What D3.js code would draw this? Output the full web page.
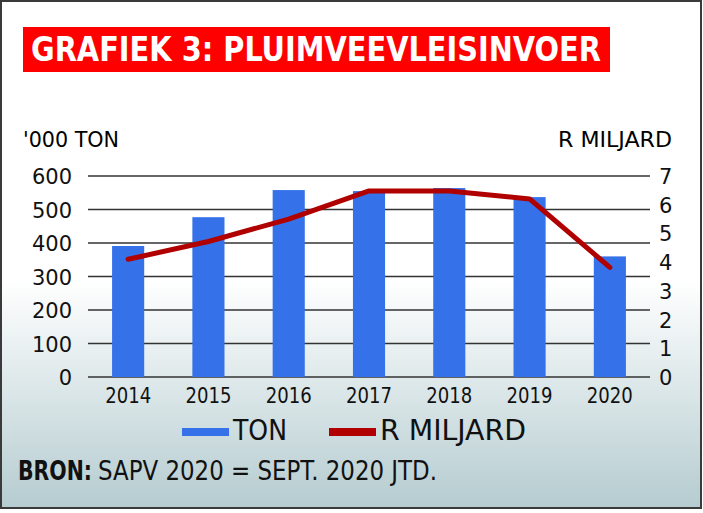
<!DOCTYPE html>
<html>
<head>
<meta charset="utf-8">
<script src="https://cdn.jsdelivr.net/npm/d3@7"></script>
<style>
  body { margin: 0; background: #fff; }
  svg { display: block; }
</style>
</head>
<body>
<script>
// data
var years = ["2014", "2015", "2016", "2017", "2018", "2019", "2020"];
var tons = [391, 477, 558, 555, 564, 537, 360];
var rand = [4.1, 4.72, 5.5, 6.48, 6.48, 6.2, 3.82];
var leftTicks = [0, 100, 200, 300, 400, 500, 600];
var rightTicks = [0, 1, 2, 3, 4, 5, 6, 7];

var W = 703, H = 513;
var plot = {left: 88, right: 650, top: 176, bottom: 377};
var condensed = "'Liberation Sans Narrow', 'DejaVu Sans Condensed', sans-serif";
var plain = "'DejaVu Sans', sans-serif";

var svg = d3.select("body").append("svg")
	.attr("width", W)
	.attr("height", H);

var defs = svg.append("defs");
var grad = defs.append("linearGradient")
	.attr("id", "bg")
	.attr("x1", 0).attr("y1", 0)
	.attr("x2", 0).attr("y2", 1);
grad.append("stop").attr("offset", 0.55).attr("stop-color", "#ffffff");
grad.append("stop").attr("offset", 1).attr("stop-color", "#b5ccd0");

// background + border
svg.append("rect")
	.attr("x", 1).attr("y", 1)
	.attr("width", 700).attr("height", 507)
	.attr("fill", "url(#bg)")
	.attr("stroke", "#3a3a3a")
	.attr("stroke-width", 2);

// title box
svg.append("rect")
	.attr("x", 23).attr("y", 27)
	.attr("width", 587).attr("height", 45)
	.attr("fill", "#ff0000");
svg.append("text")
	.text("GRAFIEK 3: PLUIMVEEVLEISINVOER")
	.attr("x", 31).attr("y", 61)
	.attr("fill", "#fff")
	.attr("font-family", condensed)
	.attr("font-weight", "bold")
	.attr("font-size", 33)
	.attr("textLength", 570)
	.attr("lengthAdjust", "spacingAndGlyphs");

// axis titles
svg.append("text")
	.text("'000 TON")
	.attr("x", 23).attr("y", 147)
	.attr("font-family", condensed)
	.attr("font-size", 21)
	.attr("textLength", 96)
	.attr("lengthAdjust", "spacingAndGlyphs");
svg.append("text")
	.text("R MILJARD")
	.attr("x", 672).attr("y", 147)
	.attr("text-anchor", "end")
	.attr("font-family", condensed)
	.attr("font-size", 21)
	.attr("textLength", 114)
	.attr("lengthAdjust", "spacingAndGlyphs");

// scales
var x = d3.scaleBand()
	.domain(years)
	.range([plot.left, plot.right])
	.paddingInner(0.6)
	.paddingOuter(0.3);
var yL = d3.scaleLinear().domain([0, 600]).range([plot.bottom, plot.top]);
var yR = d3.scaleLinear().domain([0, 7]).range([plot.bottom, plot.top]);

// grid
svg.append("g")
	.selectAll("line")
	.data(leftTicks)
	.enter().append("line")
	.attr("x1", plot.left).attr("x2", plot.right)
	.attr("y1", function(d){ return yL(d); })
	.attr("y2", function(d){ return yL(d); })
	.attr("stroke", "#333")
	.attr("stroke-width", 1.5);

// left axis
var gl = svg.append("g")
	.attr("transform", "translate(" + (plot.left - 16) + ",0)")
	.call(d3.axisLeft(yL).tickValues(leftTicks).tickSize(0).tickPadding(0));
gl.select(".domain").remove();
gl.selectAll("text")
	.attr("font-family", plain)
	.attr("font-size", 21)
	.attr("fill", "#111")
	.attr("dy", "0.36em");

// right axis
var gr = svg.append("g")
	.attr("transform", "translate(" + (plot.right + 9) + ",0)")
	.call(d3.axisRight(yR).tickValues(rightTicks).tickFormat(d3.format("d")).tickSize(0).tickPadding(0));
gr.select(".domain").remove();
gr.selectAll("text")
	.attr("font-family", plain)
	.attr("font-size", 21)
	.attr("fill", "#111")
	.attr("dy", "0.36em");

// bars
svg.append("g")
	.selectAll("rect")
	.data(tons)
	.enter().append("rect")
	.attr("x", function(d, i){ return x(years[i]); })
	.attr("y", function(d){ return yL(d); })
	.attr("width", x.bandwidth())
	.attr("height", function(d){ return plot.bottom - yL(d); })
	.attr("fill", "#3571e8");

// line
var line = d3.line()
	.x(function(d, i){ return x(years[i]) + x.bandwidth() / 2; })
	.y(function(d){ return yR(d); });
svg.append("path")
	.datum(rand)
	.attr("d", line)
	.attr("fill", "none")
	.attr("stroke", "#b00000")
	.attr("stroke-width", 5)
	.attr("stroke-linejoin", "round")
	.attr("stroke-linecap", "round");

// x axis labels
var gx = svg.append("g")
	.attr("transform", "translate(0," + plot.bottom + ")")
	.call(d3.axisBottom(x).tickSize(0).tickPadding(0));
gx.select(".domain").remove();
gx.selectAll("text")
	.attr("y", 26)
	.attr("dy", 0)
	.attr("font-family", condensed)
	.attr("font-size", 22)
	.attr("textLength", 46)
	.attr("lengthAdjust", "spacingAndGlyphs")
	.attr("fill", "#111");

// legend
var legend = [
	{name: "TON", color: "#3571e8", x: 182, len: 54},
	{name: "R MILJARD", color: "#b00000", x: 329, len: 146}
];
var lg = svg.append("g").selectAll("g")
	.data(legend)
	.enter().append("g")
	.attr("transform", function(d){ return "translate(" + d.x + ",0)"; });
lg.append("rect")
	.attr("x", 0).attr("y", 428)
	.attr("width", 47).attr("height", 8)
	.attr("fill", function(d){ return d.color; });
lg.append("text")
	.text(function(d){ return d.name; })
	.attr("x", 51).attr("y", 440)
	.attr("font-family", condensed)
	.attr("font-size", 28)
	.attr("textLength", function(d){ return d.len; })
	.attr("lengthAdjust", "spacingAndGlyphs")
	.attr("fill", "#111");

// source
svg.append("text")
	.text("BRON:")
	.attr("x", 18).attr("y", 480)
	.attr("font-family", condensed)
	.attr("font-weight", "bold")
	.attr("font-size", 26)
	.attr("textLength", 74)
	.attr("lengthAdjust", "spacingAndGlyphs")
	.attr("fill", "#111");
svg.append("text")
	.text("SAPV 2020 = SEPT. 2020 JTD.")
	.attr("x", 98).attr("y", 480)
	.attr("font-family", condensed)
	.attr("font-size", 26)
	.attr("textLength", 339)
	.attr("lengthAdjust", "spacingAndGlyphs")
	.attr("fill", "#111");
</script>
</body>
</html>
